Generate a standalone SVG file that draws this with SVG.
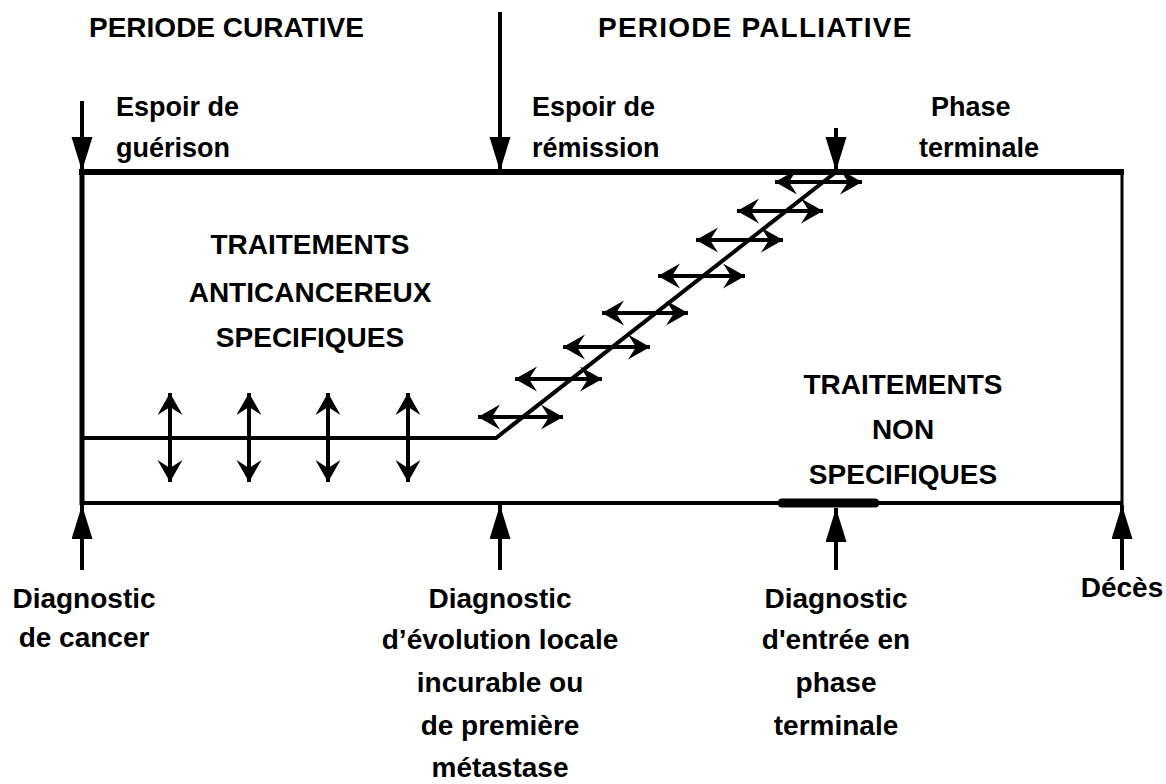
<svg xmlns="http://www.w3.org/2000/svg" width="1166" height="784" viewBox="0 0 1166 784">
<defs>
<style>
.t{font-family:"Liberation Sans",Arial,sans-serif;font-weight:bold;fill:#000}
.h{font-size:28px}
.l{font-size:27px}
.b{font-size:28px}
.d{font-size:28px}
.ln{stroke:#000;fill:none;stroke-linecap:butt}
.big{stroke-width:4;marker-end:url(#bigHead)}
.dbl{stroke-width:4;marker-start:url(#smHead);marker-end:url(#smHead)}
</style>
<marker id="bigHead" markerUnits="userSpaceOnUse" markerWidth="36" markerHeight="22" refX="34" refY="10.5" orient="auto">
<path d="M0,0 L34,10.5 L0,21 z" fill="#000"/>
</marker>
<marker id="smHead" markerUnits="userSpaceOnUse" markerWidth="24" markerHeight="26" refX="22" refY="12.5" orient="auto-start-reverse">
<path d="M0,0 L22,12.5 L0,25 L8,12.5 z" fill="#000"/>
</marker>
</defs>
<rect width="1166" height="784" fill="#fff"/>

<g id="frame" class="ln">
<line x1="79" y1="172" x2="1124" y2="172" stroke-width="6"/>
<line x1="82" y1="169" x2="82" y2="505" stroke-width="5"/>
<line x1="1122" y1="172" x2="1122" y2="505" stroke-width="3"/>
<line x1="80" y1="503" x2="1123" y2="503" stroke-width="4"/>
<line x1="782" y1="503" x2="875" y2="503" stroke-width="9" stroke-linecap="round"/>
<polyline points="82,438 496,438 836,172" stroke-width="4"/>
</g>

<g id="connectors" class="ln">
<line class="big" x1="82" y1="101" x2="82" y2="171"/>
<line class="big" x1="500" y1="12" x2="500" y2="171"/>
<line class="big" x1="836" y1="128" x2="836" y2="171"/>
<line class="big" x1="82" y1="570" x2="82" y2="505"/>
<line class="big" x1="500" y1="570" x2="500" y2="505"/>
<line class="big" x1="836" y1="570" x2="836" y2="508"/>
<line class="big" x1="1122" y1="570" x2="1122" y2="505"/>

<line class="dbl" x1="170" y1="393" x2="170" y2="482"/>
<line class="dbl" x1="249" y1="393" x2="249" y2="482"/>
<line class="dbl" x1="328" y1="393" x2="328" y2="482"/>
<line class="dbl" x1="408" y1="393" x2="408" y2="482"/>

<line class="dbl" x1="478" y1="417" x2="563" y2="417"/>
<line class="dbl" x1="515" y1="379" x2="602" y2="379"/>
<line class="dbl" x1="563" y1="347" x2="650" y2="347"/>
<line class="dbl" x1="602" y1="313" x2="688" y2="313"/>
<line class="dbl" x1="658" y1="276" x2="745" y2="276"/>
<line class="dbl" x1="696" y1="240" x2="783" y2="240"/>
<line class="dbl" x1="737" y1="211" x2="823" y2="211"/>
<line class="dbl" x1="775" y1="182" x2="862" y2="182"/>
</g>

<g id="periode-curative"><text class="t h" x="89" y="37">PERIODE CURATIVE</text></g>
<g id="periode-palliative"><text class="t h" x="598" y="37" letter-spacing="1.2">PERIODE PALLIATIVE</text></g>

<g id="espoir-guerison">
<text class="t l" x="116" y="116">Espoir de</text>
<text class="t l" x="116" y="157">guérison</text>
</g>
<g id="espoir-remission">
<text class="t l" x="532" y="116">Espoir de</text>
<text class="t l" x="532" y="157">rémission</text>
</g>
<g id="phase-terminale">
<text class="t l" x="931" y="116">Phase</text>
<text class="t l" x="919" y="157">terminale</text>
</g>

<g id="traitements-specifiques" text-anchor="middle">
<text class="t b" x="310" y="254">TRAITEMENTS</text>
<text class="t b" x="310" y="302">ANTICANCEREUX</text>
<text class="t b" x="310" y="347">SPECIFIQUES</text>
</g>
<g id="traitements-non-specifiques" text-anchor="middle">
<text class="t b" x="903" y="394">TRAITEMENTS</text>
<text class="t b" x="903" y="439">NON</text>
<text class="t b" x="903" y="484">SPECIFIQUES</text>
</g>

<g id="diag-cancer" text-anchor="middle">
<text class="t d" x="84" y="608">Diagnostic</text>
<text class="t d" x="84" y="647">de cancer</text>
</g>
<g id="diag-evolution" text-anchor="middle">
<text class="t d" x="500" y="608">Diagnostic</text>
<text class="t d" x="500" y="649">d’évolution locale</text>
<text class="t d" x="500" y="692">incurable ou</text>
<text class="t d" x="500" y="735">de première</text>
<text class="t d" x="500" y="777">métastase</text>
</g>
<g id="diag-terminale" text-anchor="middle">
<text class="t d" x="836" y="608">Diagnostic</text>
<text class="t d" x="836" y="649">d'entrée en</text>
<text class="t d" x="836" y="692">phase</text>
<text class="t d" x="836" y="735">terminale</text>
</g>
<g id="deces" text-anchor="middle">
<text class="t d" x="1122" y="597">Décès</text>
</g>
</svg>
